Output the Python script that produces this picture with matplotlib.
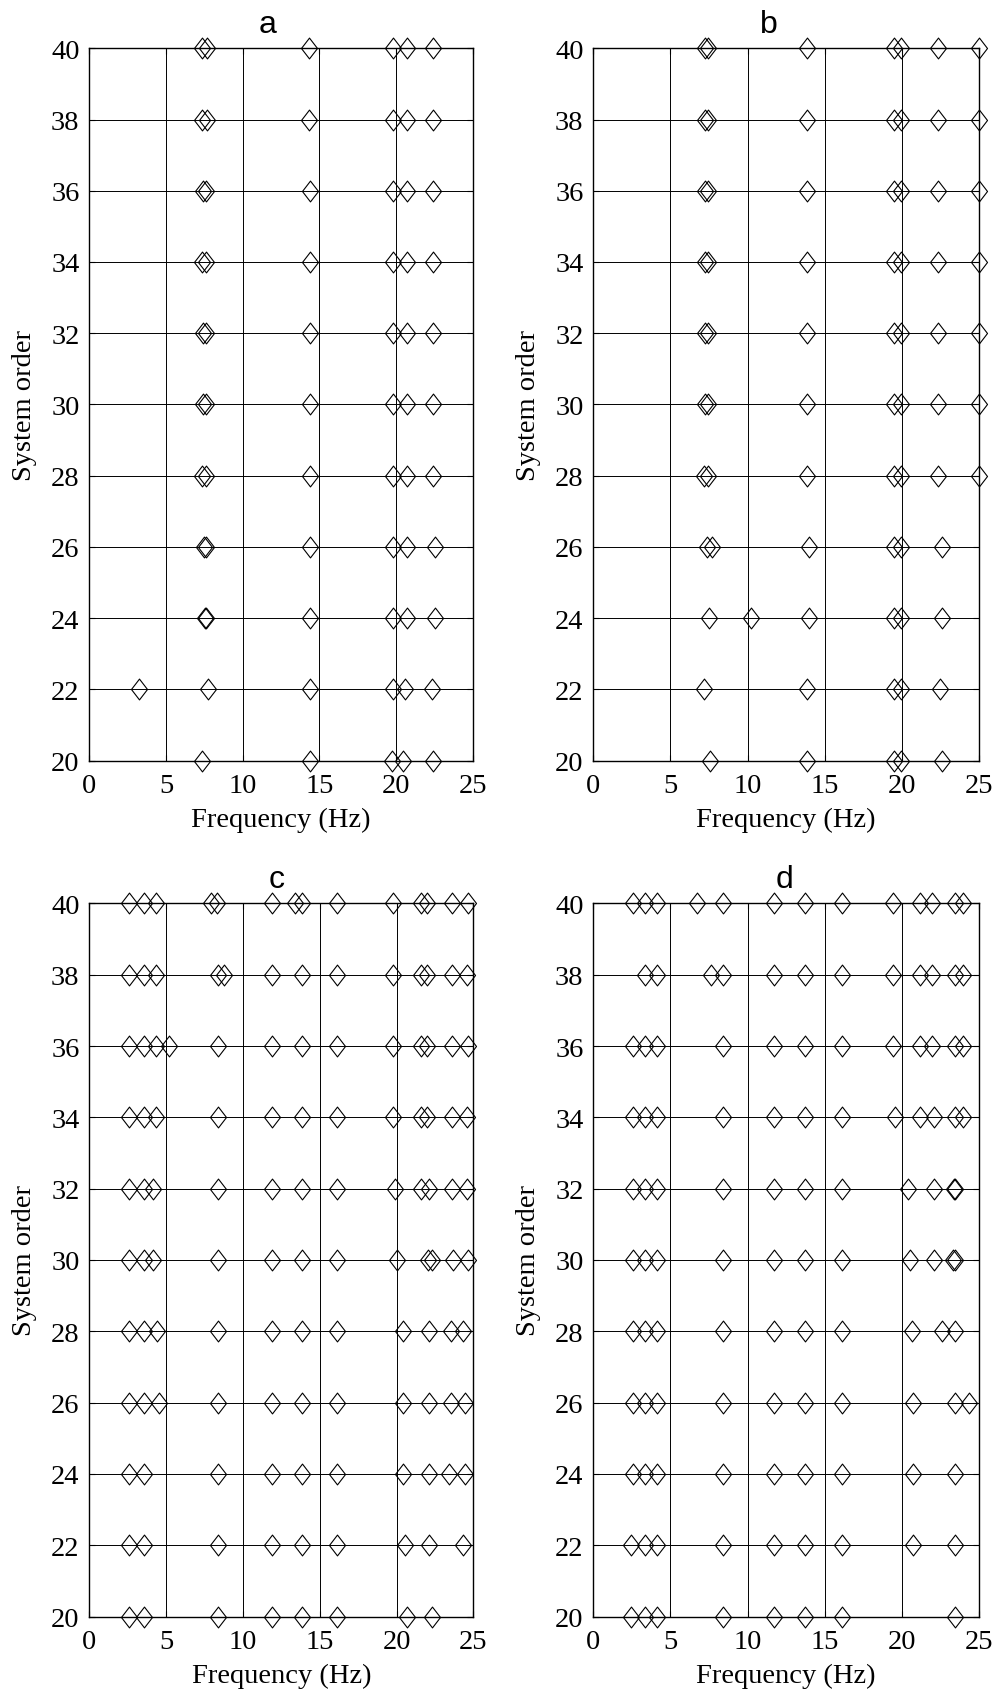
import matplotlib
matplotlib.use('Agg')
import matplotlib.pyplot as plt
from matplotlib.path import Path

orders = [20, 22, 24, 26, 28, 30, 32, 34, 36, 38, 40]
x_ticks = [0, 5, 10, 15, 20, 25]
panel_titles = ['a', 'b', 'c', 'd']

# stabilised frequencies (Hz) for each system order, panel a
freq_a = [
    [7.35, 14.39, 19.72, 20.43, 22.43],
    [3.22, 7.74, 14.39, 19.78, 20.59, 22.33],
    [7.57, 7.61, 14.39, 19.78, 20.74, 22.57],
    [7.48, 7.61, 14.39, 19.78, 20.74, 22.57],
    [7.35, 7.61, 14.39, 19.78, 20.74, 22.43],
    [7.40, 7.61, 14.39, 19.78, 20.74, 22.43],
    [7.40, 7.61, 14.39, 19.78, 20.74, 22.43],
    [7.33, 7.61, 14.39, 19.78, 20.74, 22.43],
    [7.40, 7.61, 14.39, 19.78, 20.74, 22.43],
    [7.33, 7.65, 14.30, 19.78, 20.74, 22.43],
    [7.33, 7.65, 14.30, 19.78, 20.74, 22.43],
]

# panel b
freq_b = [
    [7.58, 13.83, 19.49, 19.92, 22.60],
    [7.20, 13.83, 19.49, 19.97, 22.47],
    [7.48, 10.22, 13.96, 19.49, 19.97, 22.60],
    [7.35, 7.71, 13.96, 19.49, 19.97, 22.60],
    [7.20, 7.41, 13.83, 19.49, 19.97, 22.34, 25.00],
    [7.24, 7.41, 13.83, 19.49, 19.97, 22.34, 25.00],
    [7.24, 7.41, 13.83, 19.49, 19.97, 22.34, 25.00],
    [7.24, 7.41, 13.83, 19.49, 19.97, 22.34, 25.00],
    [7.24, 7.41, 13.83, 19.49, 19.97, 22.34, 25.00],
    [7.24, 7.41, 13.83, 19.49, 19.97, 22.34, 25.00],
    [7.24, 7.45, 13.83, 19.49, 19.92, 22.34, 25.00],
]

# panel c
freq_c = [
    [2.56, 3.56, 8.40, 11.87, 13.87, 16.15, 20.70, 22.29],
    [2.56, 3.56, 8.40, 11.87, 13.87, 16.15, 20.55, 22.13, 24.30],
    [2.56, 3.56, 8.40, 11.87, 13.87, 16.15, 20.40, 22.13, 23.44, 24.46],
    [2.56, 3.56, 4.54, 8.40, 11.87, 13.87, 16.15, 20.40, 22.13, 23.55, 24.46],
    [2.56, 3.56, 4.43, 8.40, 11.87, 13.87, 16.15, 20.40, 22.13, 23.55, 24.35],
    [2.56, 3.56, 4.12, 8.40, 11.87, 13.87, 16.15, 20.00, 22.03, 22.29, 23.70, 24.67],
    [2.56, 3.56, 4.12, 8.40, 11.87, 13.87, 16.15, 19.90, 21.59, 22.13, 23.61, 24.57],
    [2.56, 3.56, 4.32, 8.40, 11.87, 13.87, 16.15, 19.75, 21.59, 22.00, 23.61, 24.57],
    [2.56, 3.56, 4.32, 5.21, 8.40, 11.87, 13.87, 16.15, 19.75, 21.59, 22.00, 23.61, 24.67],
    [2.56, 3.56, 4.32, 8.40, 8.79, 11.87, 13.87, 16.15, 19.75, 21.59, 22.00, 23.61, 24.57],
    [2.56, 3.56, 4.32, 7.90, 8.33, 11.89, 13.39, 13.82, 16.15, 19.75, 21.59, 22.00, 23.61, 24.67],
]

# panel d
freq_d = [
    [2.42, 3.37, 4.15, 8.38, 11.71, 13.72, 16.12, 23.42],
    [2.42, 3.37, 4.15, 8.38, 11.71, 13.72, 16.12, 20.74, 23.42],
    [2.55, 3.37, 4.15, 8.38, 11.71, 13.72, 16.12, 20.74, 23.42],
    [2.55, 3.37, 4.15, 8.38, 11.71, 13.72, 16.12, 20.74, 23.42, 24.37],
    [2.55, 3.37, 4.15, 8.38, 11.71, 13.72, 16.12, 20.66, 22.58, 23.42],
    [2.55, 3.37, 4.15, 8.38, 11.71, 13.72, 16.12, 20.53, 22.08, 23.33, 23.42],
    [2.55, 3.37, 4.15, 8.38, 11.71, 13.72, 16.12, 20.42, 22.08, 23.37, 23.42],
    [2.55, 3.37, 4.15, 8.38, 11.71, 13.72, 16.12, 19.56, 21.18, 22.08, 23.42, 23.94],
    [2.55, 3.37, 4.15, 8.38, 11.71, 13.72, 16.12, 19.45, 21.18, 21.95, 23.42, 23.94],
    [3.37, 4.15, 7.61, 8.38, 11.71, 13.72, 16.12, 19.45, 21.18, 21.95, 23.42, 23.94],
    [2.55, 3.37, 4.15, 6.70, 8.38, 11.71, 13.72, 16.12, 19.45, 21.18, 21.95, 23.42, 23.94],
]

panels = [freq_a, freq_b, freq_c, freq_d]

SERIF = 'Liberation Serif'
SANS = 'Liberation Sans'

fig = plt.figure(figsize=(10, 16.99), dpi=100)

# axes rectangles (figure fraction): left, bottom, width, height
rects = [
    [0.0893, 0.5517, 0.3834, 0.4193],
    [0.5933, 0.5517, 0.3857, 0.4193],
    [0.0893, 0.0479, 0.3840, 0.4198],
    [0.5933, 0.0479, 0.3857, 0.4198],
]
title_x = [0.464, 0.456, 0.487, 0.495]

diamond = Path([(0, 1), (0.77, 0), (0, -1), (-0.77, 0), (0, 1)],
               [Path.MOVETO, Path.LINETO, Path.LINETO, Path.LINETO, Path.CLOSEPOLY])

for i, (freqs, rect) in enumerate(zip(panels, rects)):
    ax = fig.add_axes(rect)
    xs, ys = [], []
    for order, row in zip(orders, freqs):
        for f in row:
            xs.append(f)
            ys.append(order)
    ax.plot(xs, ys, linestyle='none', marker=diamond, markersize=15,
            markerfacecolor='none', markeredgecolor='black', markeredgewidth=0.8,
            clip_on=False, zorder=3)
    ax.set_xlim(0, 25)
    ax.set_ylim(20, 40)
    ax.set_xticks(x_ticks)
    ax.set_yticks(orders)
    ax.grid(True, color='black', linewidth=0.7, linestyle='-')
    ax.set_axisbelow(True)
    ax.tick_params(direction='in', top=True, right=True, length=4.3, width=0.8,
                   labelsize=20.5, pad=7)
    ax.tick_params(axis='x', pad=9)
    for lab in ax.get_xticklabels() + ax.get_yticklabels():
        lab.set_fontfamily(SERIF)
    for sp in ax.spines.values():
        sp.set_linewidth(1.0)
    ax.set_xlabel('Frequency (Hz)', fontfamily=SERIF, fontsize=20.5, labelpad=6)
    if i in (0, 2):
        ax.set_ylabel('System order', fontfamily=SERIF, fontsize=20.5, labelpad=10)
    else:
        ax.set_ylabel('System order', fontfamily=SERIF, fontsize=20.5, labelpad=10)
    ax.set_title(panel_titles[i], fontfamily=SANS, fontsize=23, x=title_x[i], pad=12)

fig.savefig('out.png', dpi=100)
